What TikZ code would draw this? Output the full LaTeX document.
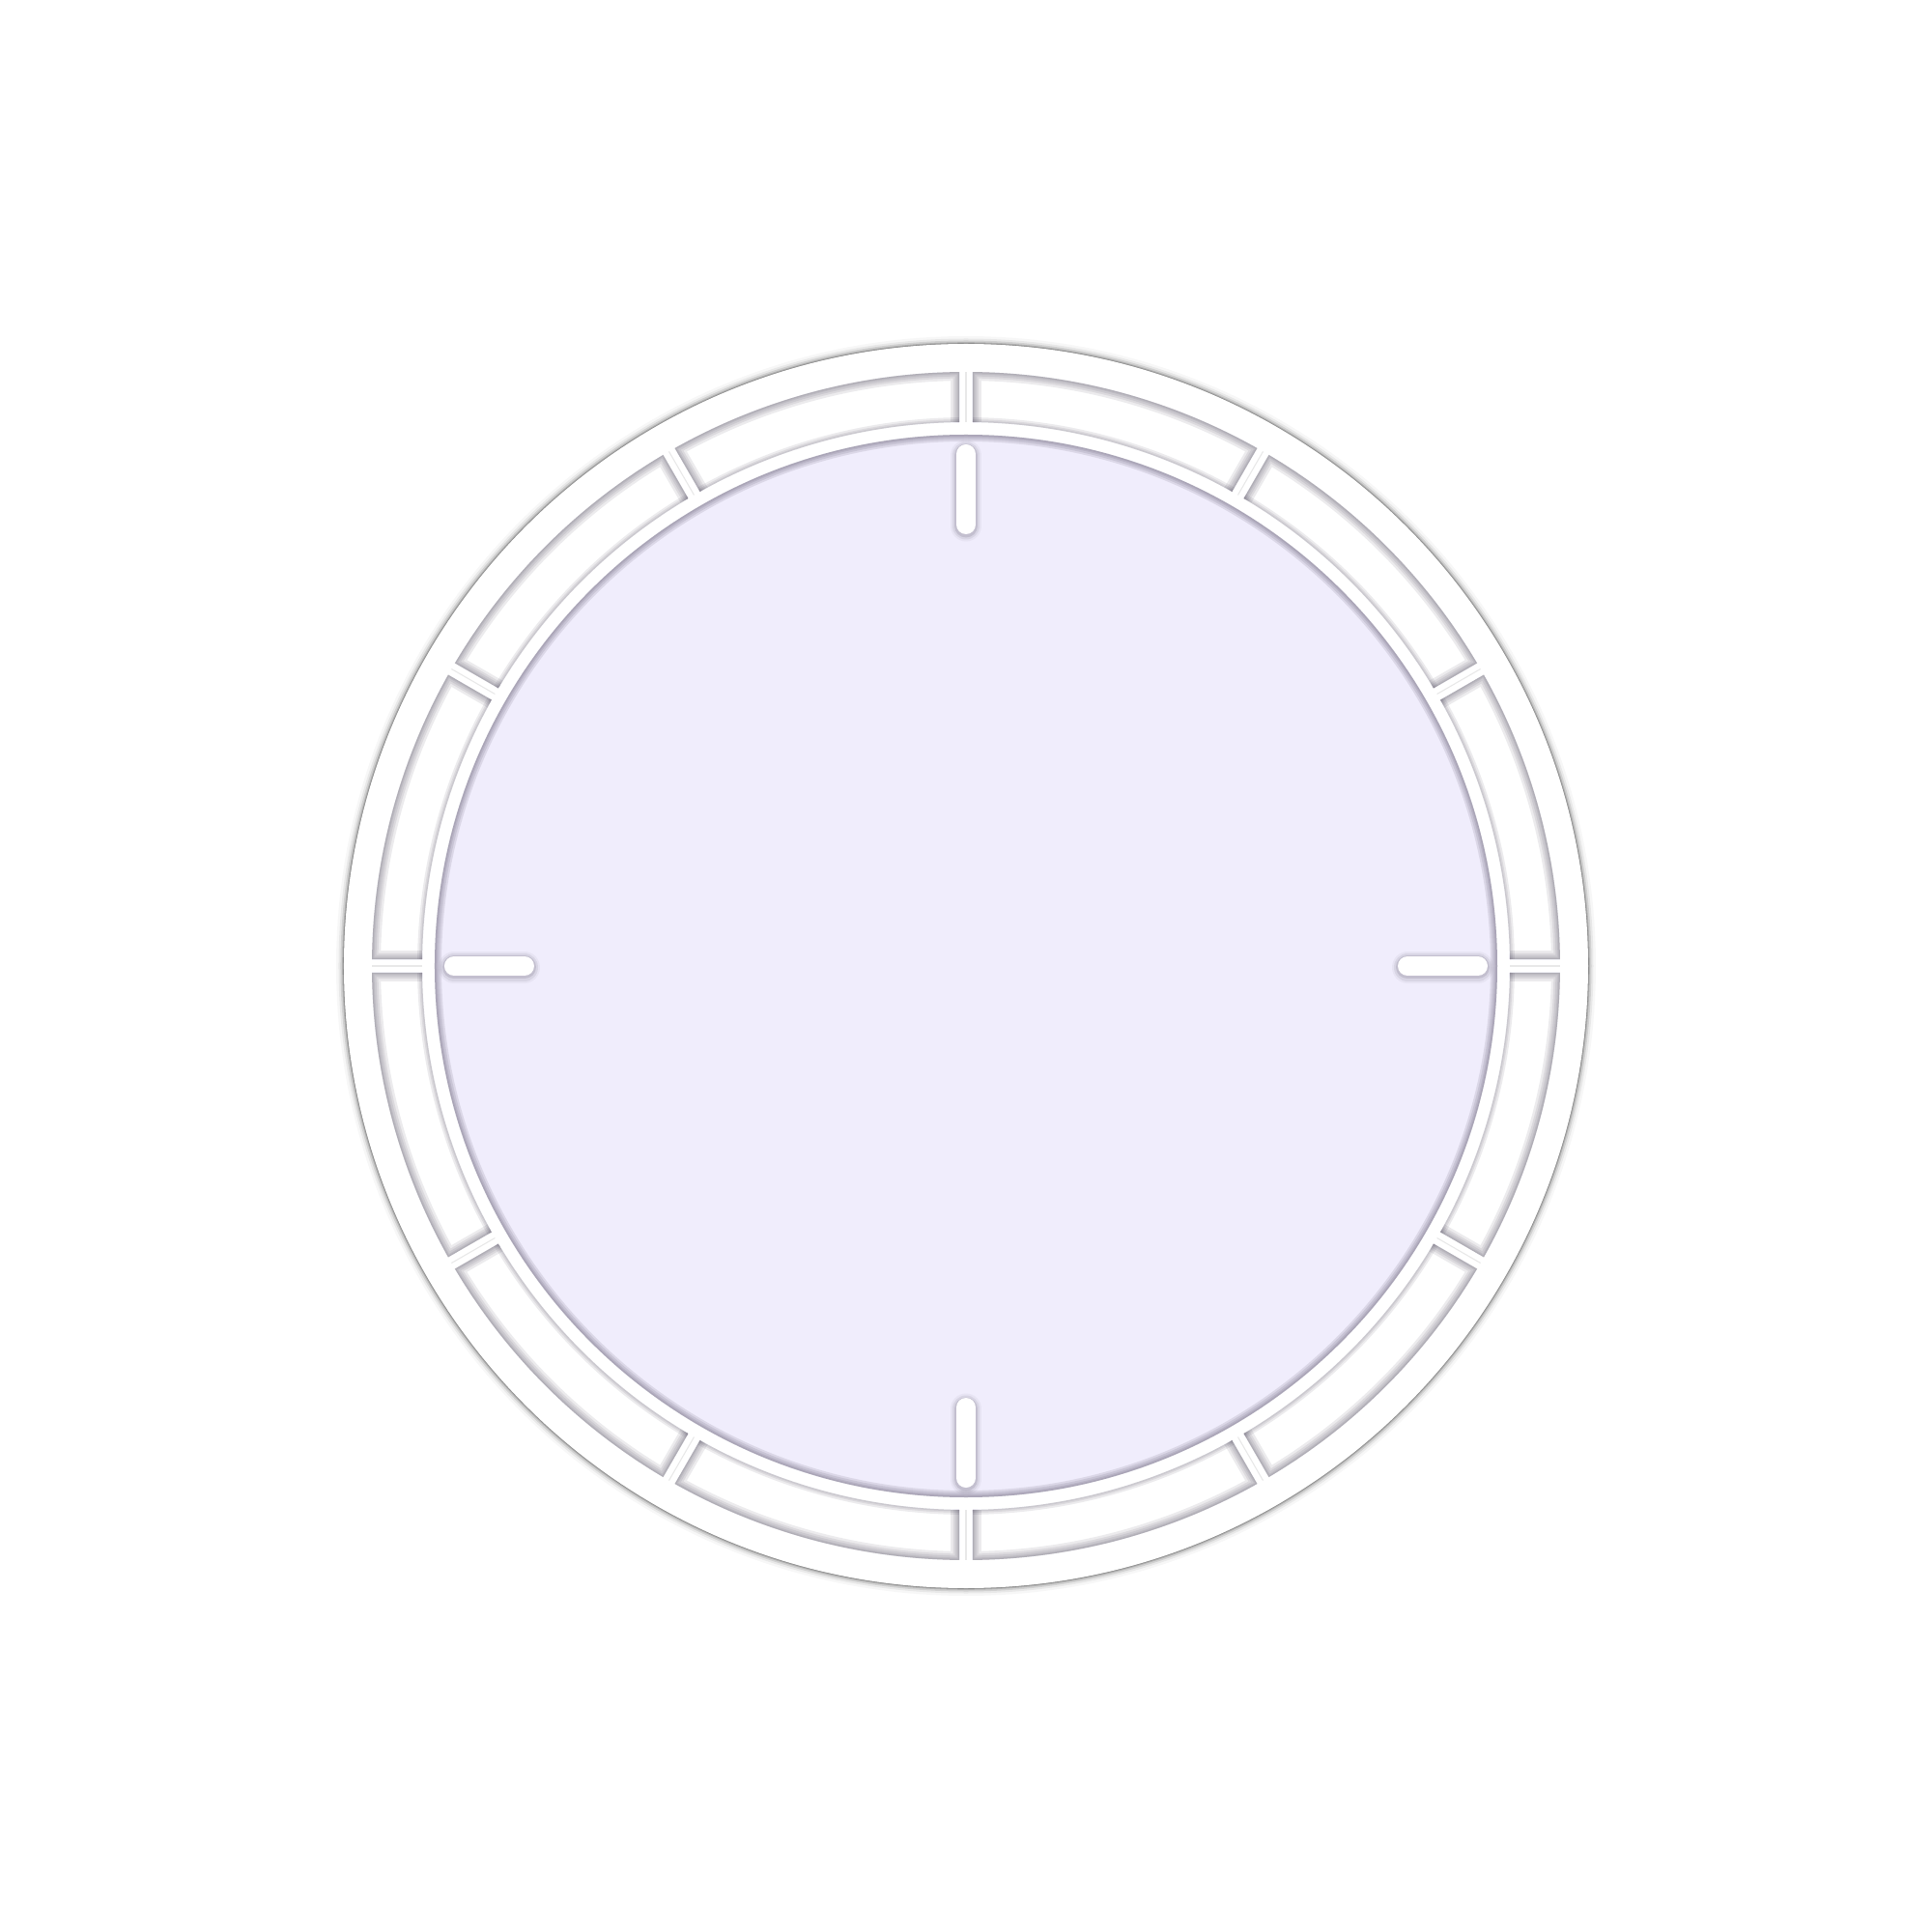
\documentclass[tikz,border=0pt]{standalone}
\usepackage{xcolor}
\usetikzlibrary{calc}
\definecolor{mostrador}{RGB}{240,237,252}
\definecolor{sombra}{RGB}{70,64,86}
% setor do anel entre duas divisoes (angulo inicial #1)
\newcommand{\setor}[1]{({#1+0.65}:6.15) arc[start angle=#1+0.65, end angle=#1+29.35, radius=6.15]
  -- ({#1+29.29}:5.63) arc[start angle=#1+29.29, end angle=#1+0.71, radius=5.63] -- cycle}
% bordas do setor que recebem mais sombra (sem o arco interno)
\newcommand{\bordaSetor}[1]{({#1+0.71}:5.63) -- ({#1+0.65}:6.15) arc[start angle=#1+0.65, end angle=#1+29.35, radius=6.15]
  -- ({#1+29.29}:5.63)}
\tikzset{
    sombraFora/.style={fill=black, opacity=#1},
    sombraDentro/.style={draw=sombra, opacity=#1},
    marca/.style={line width=2mm, line cap=round, draw=white},
    divisao/.style={draw=black!9, line width=0.3pt}
}

\begin{document}
\begin{tikzpicture}
    \useasboundingbox[fill=white] (-10,-10) rectangle (10,10);

    % disco externo
    \foreach \d/\o in {0.08/0.03,0.055/0.06,0.035/0.1,0.018/0.15,0.008/0.2}
        \fill[sombraFora=\o] (0,0) circle (6.44+\d);
    \fill[white] (0,0) circle (6.44);

    % anel com 12 setores
    \foreach \a in {0,30,...,330}{
        \begin{scope}
            \clip \setor{\a};
            \foreach \w in {1.8,1.3,0.9,0.5,0.25}
                \draw[sombraDentro=0.1, line width=\w mm] \bordaSetor{\a};
            \foreach \w in {1.0,0.6,0.3}
                \draw[sombraDentro=0.1, line width=\w mm] ({\a+29.29}:5.63) arc[start angle=\a+29.29, end angle=\a+0.71, radius=5.63];
        \end{scope}
        \draw[divisao] (\a:5.63) -- (\a:6.15);
    }

    % mostrador
    \fill[mostrador] (0,0) circle (5.5);
    \begin{scope}
        \clip (0,0) circle (5.5);
        \foreach \w in {1.4,1.0,0.6,0.3}
            \draw[sombraDentro=0.12, line width=\w mm] (0,0) circle (5.5);
    \end{scope}

    % marcas das horas
    \foreach \a in {0,90,180,270}{
        \foreach \w/\o in {3.2/0.05,2.8/0.09,2.4/0.14}
            \draw[line width=\w mm, line cap=round, draw=sombra, opacity=\o, yshift=-0.15mm] (\a:4.57) -- (\a:5.30);
        \draw[marca] (\a:4.57) -- (\a:5.30);
    }
\end{tikzpicture}
\end{document}
